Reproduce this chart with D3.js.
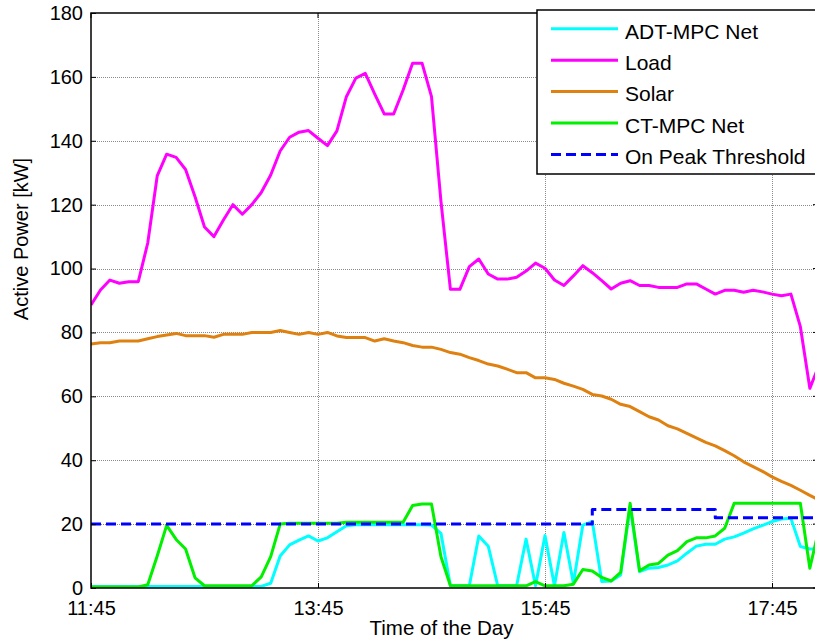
<!DOCTYPE html>
<html>
<head>
<meta charset="utf-8">
<script src="https://cdn.jsdelivr.net/npm/d3@7/dist/d3.min.js"></script>
<style>
  html, body { margin: 0; padding: 0; background: #fff; }
  svg { display: block; font-family: "Liberation Sans", Arial, Helvetica, sans-serif; }
</style>
</head>
<body>
<svg id="chart" width="815" height="641"></svg>
<script>
// ---- data: 5-minute samples starting at 11:45 ----
const startTime = new Date(2015, 5, 1, 11, 45);
const stepMinutes = 5;

const loadKW = [88.6, 93.3, 96.4, 95.4, 95.9, 95.9, 108, 129, 135.8, 134.8,
  131, 122.5, 113, 110, 115.2, 120, 117, 120, 123.8, 129.3,
  136.8, 141.1, 142.7, 143.2, 140.8, 138.5, 143.1, 153.8, 159.6, 161.1,
  154.6, 148.4, 148.4, 155.9, 164.3, 164.3, 153.8, 121, 93.5, 93.5,
  100.6, 103, 98.3, 96.7, 96.7, 97.3, 99.2, 101.7, 100.1, 96.4,
  94.7, 97.7, 100.9, 98.7, 96.2, 93.6, 95.4, 96.2, 94.7, 94.7,
  94.1, 94.1, 94.1, 95.2, 95.2, 93.6, 92, 93.2, 93.2, 92.6,
  93.2, 92.7, 92, 91.5, 92, 81.8, 62.5, 70];

const solarKW = [76.4, 76.8, 76.8, 77.3, 77.3, 77.3, 78, 78.7, 79.2, 79.7,
  79, 79, 79, 78.5, 79.4, 79.4, 79.4, 80, 80, 80,
  80.6, 80, 79.4, 80, 79.4, 80, 78.9, 78.4, 78.4, 78.4,
  77.3, 78, 77.3, 76.8, 75.9, 75.4, 75.4, 74.7, 73.7, 73.2,
  72.1, 71.2, 70.1, 69.5, 68.5, 67.4, 67.4, 65.8, 65.8, 65.3,
  64.1, 63.2, 62.2, 60.6, 60.1, 59.1, 57.5, 56.8, 55.2, 53.6,
  52.6, 50.8, 49.8, 48.4, 47, 45.6, 44.5, 43, 41.4, 39.5,
  38, 36.5, 34.8, 33.4, 32.1, 30.6, 29, 27.5];

const adtNetKW = [0.5, 0.5, 0.5, 0.5, 0.5, 0.5, 0.5, 0.5, 0.5, 0.5,
  0.5, 0.5, 0.5, 0.5, 0.5, 0.5, 0.5, 0.5, 0.5, 1.5,
  10, 13.5, 15, 16.3, 14.7, 15.7, 17.6, 19.5, 19.8, 19.8,
  19.8, 19.8, 19.8, 19.8, 19.8, 19.8, 19.7, 17.1, 0.7, 0.7,
  0.7, 16.3, 13.1, 0.7, 0.7, 0.7, 15.3, 0.7, 16.4, 0.7,
  17.4, 1.5, 19.7, 20.8, 2, 2.2, 4.1, 25.5, 5.1, 6.2,
  6.4, 7.2, 8.5, 10.9, 13.1, 13.7, 13.7, 15.3, 16, 17.2,
  18.5, 19.6, 20.8, 21.6, 21.8, 13, 12.2, 12.2];

const ctNetKW = [0.3, 0.3, 0.3, 0.3, 0.3, 0.3, 1, 10, 19.6, 15.2,
  12.2, 3.2, 0.7, 0.7, 0.7, 0.7, 0.7, 0.7, 3.5, 9.8,
  20, 20.3, 20.3, 20.3, 20.3, 20.3, 20.3, 20.6, 20.6, 20.6,
  20.6, 20.6, 20.6, 20.6, 25.8, 26.3, 26.3, 9.8, 0.7, 0.7,
  0.7, 0.7, 0.7, 0.7, 0.7, 0.7, 0.7, 2, 0.7, 0.7,
  0.7, 1.2, 5.8, 5.3, 3.3, 2.2, 4.9, 26.5, 5.4, 7.2,
  7.7, 10.3, 11.7, 14.5, 15.7, 15.7, 16.3, 18.7, 26.5, 26.5,
  26.5, 26.5, 26.5, 26.5, 26.5, 26.5, 6.2, 19];

const thresholdKW = [20, 20, 20, 20, 20, 20, 20, 20, 20, 20,
  20, 20, 20, 20, 20, 20, 20, 20, 20, 20,
  20, 20, 20, 20, 20, 20, 20, 20, 20, 20,
  20, 20, 20, 20, 20, 20, 20, 20, 20, 20,
  20, 20, 20, 20, 20, 20, 20, 20, 20, 20,
  20, 20, 20, 24.6, 24.6, 24.6, 24.6, 24.6, 24.6, 24.6,
  24.6, 24.6, 24.6, 24.6, 24.6, 24.6, 22, 22, 22, 22,
  22, 22, 22, 22, 22, 22, 22, 22];

const yTickValues = [0, 20, 40, 60, 80, 100, 120, 140, 160, 180];
const xTickLabels = ["11:45", "13:45", "15:45", "17:45"];

const seriesNames = ["ADT-MPC Net", "Load", "Solar", "CT-MPC Net", "On Peak Threshold"];
const seriesValues = [adtNetKW, loadKW, solarKW, ctNetKW, thresholdKW];

// ---- layout ----
const plot = { left: 91, top: 13, right: 818, bottom: 588 };
const colors = ["#00FFFF", "#FF00FF", "#DF8110", "#00F000", "#0000FF"];
const dashed = [false, false, false, false, true];
const DASH = "10,5";

const times = loadKW.map((_, i) => new Date(startTime.getTime() + i * stepMinutes * 60000));
const parseHM = s => { const [h, m] = s.split(":").map(Number); return new Date(2015, 5, 1, h, m); };
const xTickDates = xTickLabels.map(parseHM);

const x = d3.scaleTime()
  .domain([xTickDates[0], xTickDates[xTickDates.length - 1]])
  .range([91, 772]);
const y = d3.scaleLinear().domain([0, 180]).range([plot.bottom, plot.top]);

const svg = d3.select("#chart");

svg.append("defs").append("clipPath").attr("id", "plotClip")
  .append("rect")
  .attr("x", plot.left).attr("y", plot.top)
  .attr("width", plot.right - plot.left).attr("height", plot.bottom - plot.top);

// ---- grid ----
const grid = svg.append("g").attr("stroke", "#8a8a8a").attr("stroke-width", 1)
  .attr("stroke-dasharray", "1,1").attr("shape-rendering", "crispEdges");
grid.selectAll("line.h").data(yTickValues.slice(1, -1)).join("line")
  .attr("x1", plot.left).attr("x2", plot.right)
  .attr("y1", d => Math.round(y(d)) + 0.5).attr("y2", d => Math.round(y(d)) + 0.5);
grid.selectAll("line.v").data(xTickDates.slice(1)).join("line")
  .attr("x1", d => Math.round(x(d)) + 0.5).attr("x2", d => Math.round(x(d)) + 0.5)
  .attr("y1", plot.top).attr("y2", plot.bottom);

// ---- series ----
const lines = svg.append("g").attr("clip-path", "url(#plotClip)");
seriesValues.forEach((vals, k) => {
  const gen = d3.line()
    .x((d, i) => x(times[i]))
    .y(d => y(d))
    .curve(dashed[k] ? d3.curveStepAfter : d3.curveLinear);
  lines.append("path")
    .attr("d", gen(vals))
    .attr("fill", "none")
    .attr("stroke", colors[k])
    .attr("stroke-width", 3)
    .attr("stroke-linejoin", "round")
    .attr("stroke-dasharray", dashed[k] ? DASH : null);
});

// ---- axes ----
const yAxis = d3.axisLeft(y).tickValues(yTickValues).tickSizeInner(-5).tickSizeOuter(0).tickPadding(8);
const gy = svg.append("g").attr("transform", `translate(${plot.left},0)`).call(yAxis);
const xAxis = d3.axisBottom(x).tickValues(xTickDates)
  .tickFormat((d, i) => xTickLabels[i]).tickSizeInner(-5).tickSizeOuter(0).tickPadding(13);
const gx = svg.append("g").attr("transform", `translate(0,${plot.bottom})`).call(xAxis);
[gy, gx].forEach(g => {
  g.selectAll("text").attr("font-size", 20).attr("fill", "#000")
    .attr("font-family", "'Liberation Sans', Arial, sans-serif");
  g.select(".domain").remove();
  g.selectAll(".tick line").attr("stroke", "#000").attr("stroke-width", 1);
});
// mirrored ticks on top and right
svg.append("g").selectAll("line").data(xTickDates).join("line")
  .attr("x1", d => x(d)).attr("x2", d => x(d))
  .attr("y1", plot.top).attr("y2", plot.top + 5).attr("stroke", "#000");
svg.append("g").selectAll("line").data(yTickValues).join("line")
  .attr("x1", plot.right - 5).attr("x2", plot.right)
  .attr("y1", d => y(d)).attr("y2", d => y(d)).attr("stroke", "#000");

// axes box
svg.append("rect")
  .attr("x", plot.left).attr("y", plot.top)
  .attr("width", plot.right - plot.left).attr("height", plot.bottom - plot.top)
  .attr("fill", "none").attr("stroke", "#000").attr("stroke-width", 1.5);

// axis titles
svg.append("text")
  .attr("transform", "translate(28,239) rotate(-90)")
  .attr("text-anchor", "middle").attr("font-size", 20).text("Active Power [kW]");
svg.append("text")
  .attr("x", 441.5).attr("y", 635)
  .attr("text-anchor", "middle").attr("font-size", 20.5).text("Time of the Day");

// ---- legend ----
const legend = svg.append("g");
legend.append("rect")
  .attr("x", 537).attr("y", 10).attr("width", 300).attr("height", 164)
  .attr("fill", "#fff").attr("stroke", "#000").attr("stroke-width", 1.5);
seriesNames.forEach((name, k) => {
  const ly = 28.8 + k * 31.4;
  legend.append("line")
    .attr("x1", 551).attr("x2", 618).attr("y1", ly).attr("y2", ly)
    .attr("stroke", colors[k]).attr("stroke-width", 3)
    .attr("stroke-dasharray", dashed[k] ? DASH : null);
  legend.append("text")
    .attr("x", 625).attr("y", 38.5 + k * 31.4)
    .attr("font-size", 21).text(name);
});
</script>
</body>
</html>
